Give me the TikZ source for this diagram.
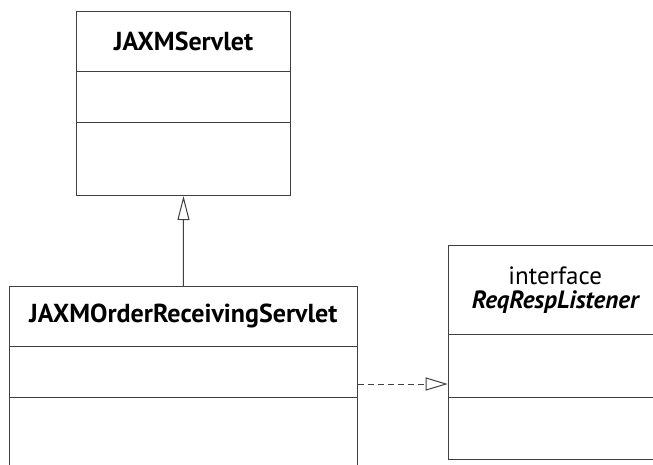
\documentclass[tikz,border=0pt]{standalone}
\usepackage{fontspec}
\setmainfont{PT Sans}
\usetikzlibrary{arrows.meta}

\begin{document}
\begin{tikzpicture}[
  x=1pt, y=-1pt,
  part/.style={
    rectangle,
    draw=black!75,
    line width=1pt,
    inner sep=0pt,
    anchor=north west
  },
  title/.style={
    font=\fontsize{26}{30}\selectfont
  },
  iface/.style={
    font=\fontsize{25}{26}\selectfont
  },
  inherit/.style={
    -{Triangle[open,length=24pt,width=12pt,fill=white]},
    draw=black!75,
    line width=1pt
  },
  realize/.style={
    -{Triangle[open,length=22pt,width=13pt,fill=white]},
    draw=black!75,
    line width=1pt,
    dash pattern=on 6pt off 4pt
  }
]

\path[use as bounding box] (0,0) rectangle (653,464);
\clip (0,0) rectangle (653,464);

% JAXMServlet
\node[part, minimum width=214pt, minimum height=60pt, title] (srvname) at (76,10.7)
  {\bfseries JAXMServlet};
\node[part, minimum width=214pt, minimum height=51.6pt] (srvattr) at (76,70.7) {};
\node[part, minimum width=214pt, minimum height=72.7pt] (srvops) at (76,122.3) {};

% JAXMOrderReceivingServlet
\node[part, minimum width=347.7pt, minimum height=59.7pt, title] (recvname) at (9,286)
  {\bfseries JAXMOrderReceivingServlet};
\node[part, minimum width=347.7pt, minimum height=51pt] (recvattr) at (9,345.7) {};
\node[part, minimum width=347.7pt, minimum height=90pt] (recvops) at (9,396.7) {};

% ReqRespListener
\node[part, minimum width=214pt, minimum height=89.3pt, iface, align=center] (listname) at (447.7,245)
  {interface\\[-2pt]\bfseries\itshape ReqRespListener};
\node[part, minimum width=214pt, minimum height=62.4pt] (listattr) at (447.7,334.3) {};
\node[part, minimum width=214pt, minimum height=62.6pt] (listops) at (447.7,396.7) {};

\draw[inherit] (recvname.north) -- (srvops.south);
\coordinate (dashtail) at (recvattr.east |- 0,384);
\draw[realize] (dashtail) -- (dashtail -| listattr.west);

\end{tikzpicture}
\end{document}
